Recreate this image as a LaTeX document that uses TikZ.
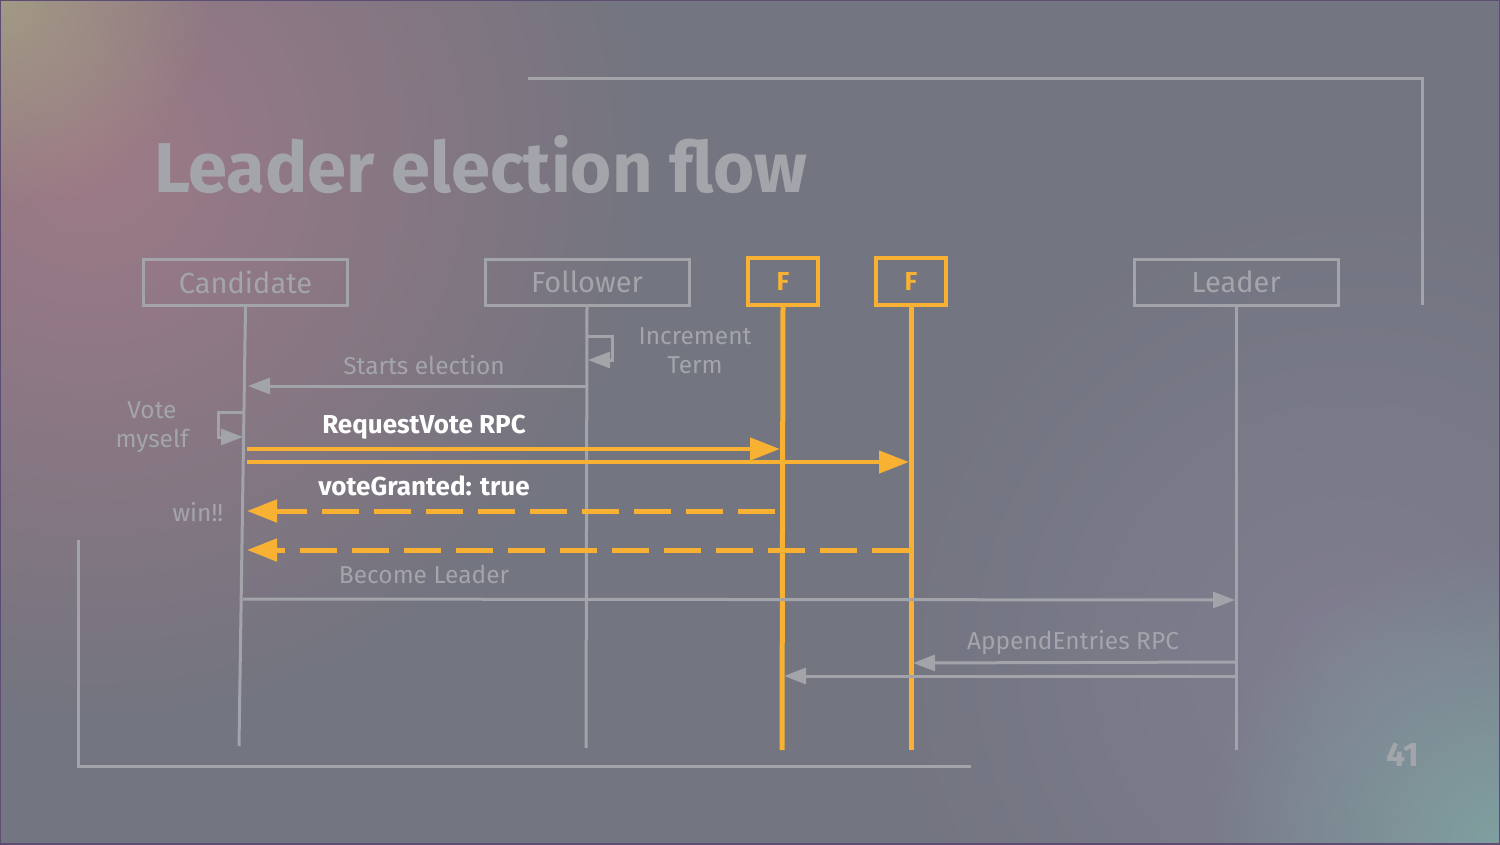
\documentclass[tikz,border=0pt]{standalone}
\usepackage{fontspec}
\setmainfont{Fira Sans}
\usetikzlibrary{arrows.meta,fadings}
\definecolor{bg}{HTML}{737580}
\definecolor{ln}{HTML}{A2A4AA}
\definecolor{tx}{HTML}{A3A5AB}
\definecolor{org}{HTML}{F8B133}
\definecolor{pinkbg}{HTML}{9E7A87}
\definecolor{yelbg}{HTML}{A39A84}
\definecolor{tealbg}{HTML}{80A0A0}
\definecolor{lilac}{HTML}{807E90}
\definecolor{frame}{HTML}{5C4D72}
\tikzfading[name=radfade, inner color=transparent!0, outer color=transparent!100]
\tikzset{
  actor/.style={draw=ln, line width=3pt, minimum width=204pt, minimum height=46pt, inner sep=0pt,
    text=tx, font=\fontsize{29}{29}\selectfont},
  fbox/.style={draw=org, line width=4pt, minimum width=70pt, minimum height=47pt, inner sep=0pt,
    text=org, font=\bfseries\fontsize{26}{26}\selectfont},
  life/.style={draw=ln, line width=3pt},
  flife/.style={draw=org, line width=5pt},
  msg/.style={draw=ln, line width=3pt, -{Triangle[length=22pt,width=16pt]}},
  omsg/.style={draw=org, line width=4.5pt, -{Triangle[length=30pt,width=22pt]}},
  odash/.style={draw=org, line width=5pt, dash pattern=on 37pt off 15pt, -{Triangle[length=30pt,width=22pt]}},
  lbl/.style={text=tx, font=\fontsize{24.5}{29}\selectfont, anchor=base, inner sep=0pt, align=center},
  blbl/.style={text=white, font=\bfseries\fontsize{26}{26}\selectfont, anchor=base, inner sep=0pt},
  deco/.style={draw=ln, line width=3pt},
  blob/.style={path fading=radfade},
}
\begin{document}
\begin{tikzpicture}[x=1pt,y=-1pt]
% background
\useasboundingbox (0,0) rectangle (1500,844);
\fill[bg] (0,0) rectangle (1500,844);
\begin{scope}
\clip (0,0) rectangle (1500,844);
\fill[pinkbg, blob] (90,160) circle (560pt);
\fill[yelbg, blob] (0,0) circle (210pt);
\fill[lilac, blob] (1350,660) circle (480pt);
\fill[tealbg, blob] (1500,844) circle (300pt);
\end{scope}
\draw[frame, line width=2.5pt] (0,0) rectangle (1500,844);

% decorative frame lines
\coordinate (d1) at (528,78);
\coordinate (d2) at (1422,78);
\coordinate (d3) at (1422,305);
\coordinate (d4) at (78,540);
\coordinate (d5) at (78,766);
\coordinate (d6) at (971,766);
\draw[deco] (d1) -- (d2) -- (d3);
\draw[deco] (d4) -- (d5) -- (d6);

% title
\node[anchor=base west, inner sep=0pt, text=tx, font=\bfseries\fontsize{70.5}{70.5}\selectfont] (title) at (154,192) {Leader election flow};

% actors
\node[actor] (cand) at (245.5,282) {Candidate};
\node[actor] (foll) at (587,282) {Follower};
\node[fbox] (f1) at (783,281.5) {F};
\node[fbox] (f2) at (911,281.5) {F};
\node[actor] (lead) at (1236,282) {Leader};

% lifeline ends
\coordinate (candE) at (239,746);
\coordinate (follE) at (586,748);
\coordinate (f1E) at (782,750);
\coordinate (f2E) at (911,750);
\coordinate (leadE) at (1236,750);
\draw[life] (cand.south) -- (candE);
\draw[life] (foll.south) -- (follE);
\draw[flife] (f1.south) -- (f1E);
\draw[flife] (f2.south) -- (f2E);
\draw[life] (lead.south) -- (leadE);

% follower self message
\coordinate (fs1) at (586,336);
\coordinate (fs2) at (612,336);
\coordinate (fs3) at (612,360);
\coordinate (fs4) at (588,360);
\draw[msg] (fs1) -- (fs2) -- (fs3) -- (fs4);
\node[lbl] (inc) at (695,344) {Increment};
\node[lbl] (term) at (695,373) {Term};

% starts election
\coordinate (se1) at (586,386);
\coordinate (se2) at (248,386);
\draw[msg] (se1) -- (se2);
\node[lbl] (sel) at (424,374) {Starts election};

% vote myself
\coordinate (vm1) at (243,412);
\coordinate (vm2) at (218,412);
\coordinate (vm3) at (218,437);
\coordinate (vm4) at (243,437);
\draw[msg] (vm1) -- (vm2) -- (vm3) -- (vm4);
\node[lbl] (vote) at (152,418) {Vote};
\node[lbl] (myself) at (152,447) {myself};

% RequestVote RPC
\node[blbl] (rv) at (424,433) {RequestVote RPC};
\coordinate (rv1s) at (247,449);
\coordinate (rv1e) at (780,449);
\coordinate (rv2s) at (247,462);
\coordinate (rv2e) at (909,462);
\draw[omsg] (rv1s) -- (rv1e);
\draw[omsg] (rv2s) -- (rv2e);

% voteGranted
\node[blbl] (vg) at (424,495) {voteGranted: true};
\coordinate (vg1s) at (775,511);
\coordinate (vg1e) at (247,511);
\coordinate (vg2s) at (909,550);
\coordinate (vg2e) at (247,550);
\draw[odash] (vg1s) -- (vg1e);
\draw[odash] (vg2s) -- (vg2e);
\node[lbl] (win) at (198,521) {win!!};

% become leader
\node[lbl] (bl) at (424,583) {Become Leader};
\coordinate (bl1) at (243,599);
\coordinate (bl2) at (1235,600);
\draw[msg] (bl1) -- (bl2);

% append entries
\node[lbl] (ae) at (1073,649) {AppendEntries RPC};
\coordinate (ae1s) at (1236,662);
\coordinate (ae1e) at (913,663);
\coordinate (ae2s) at (1236,676);
\coordinate (ae2e) at (784,676);
\draw[msg] (ae1s) -- (ae1e);
\draw[msg] (ae2s) -- (ae2e);

% page number
\node[anchor=base, inner sep=0pt, text=tx, font=\bfseries\fontsize{34}{34}\selectfont] (pg) at (1403,766) {41};
\end{tikzpicture}
\end{document}
